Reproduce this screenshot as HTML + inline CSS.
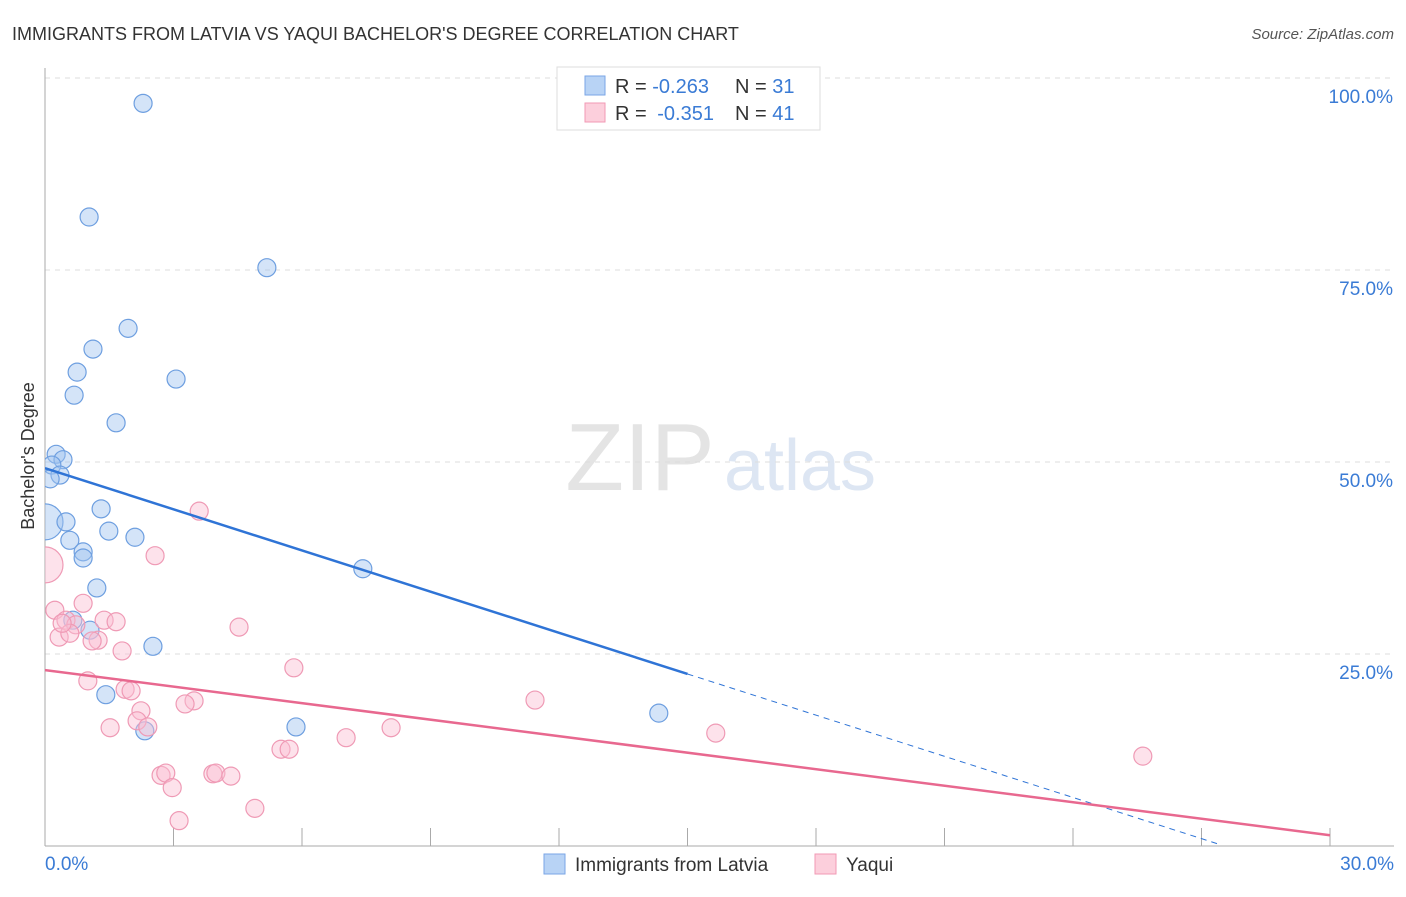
<!DOCTYPE html>
<html><head><meta charset="utf-8"><style>
body{margin:0;background:#fff;font-family:"Liberation Sans",sans-serif;}
svg text{font-family:"Liberation Sans",sans-serif;}
</style></head><body>
<svg id="chart" width="1406" height="892" xmlns="http://www.w3.org/2000/svg">
<defs><clipPath id="plotclip"><rect x="45" y="60" width="1361" height="786"/></clipPath></defs>
<text x="12" y="40" font-size="18" fill="#333">IMMIGRANTS FROM LATVIA VS YAQUI BACHELOR'S DEGREE CORRELATION CHART</text>
<text x="1394" y="39" font-size="15" fill="#555" text-anchor="end" font-style="italic">Source: ZipAtlas.com</text>
<text x="640" y="490" font-size="96" fill="#e4e4e4" font-family="Liberation Serif" text-anchor="middle">ZIP</text>
<text x="800" y="490" font-size="72" fill="#dde6f3" text-anchor="middle">atlas</text>
<g id="grid"></g><g id="axes"></g><g id="marks" clip-path="url(#plotclip)"></g>
<text transform="translate(34,456) rotate(-90)" font-size="18" fill="#333" text-anchor="middle">Bachelor's Degree</text>
<g>
<rect x="557" y="67" width="263" height="63" fill="#fff" stroke="#ddd"/>
<rect x="585" y="76" width="20" height="19" fill="#b8d3f5" stroke="#7aa6e6"/>
<rect x="585" y="103" width="20" height="19" fill="#fccfdc" stroke="#f29ab4"/>
<text x="615" y="93" font-size="20" fill="#333">R = <tspan fill="#3a7bd5">-0.263</tspan><tspan x="735">N = </tspan><tspan fill="#3a7bd5">31</tspan></text>
<text x="615" y="120" font-size="20" fill="#333">R = <tspan fill="#3a7bd5" dx="5">-0.351</tspan><tspan x="735">N = </tspan><tspan fill="#3a7bd5">41</tspan></text>
</g>
<g>
<rect x="544" y="854" width="21" height="20" fill="#b8d3f5" stroke="#7aa6e6"/>
<text x="575" y="871" font-size="19" fill="#333">Immigrants from Latvia</text>
<rect x="815" y="854" width="21" height="20" fill="#fccfdc" stroke="#f29ab4"/>
<text x="846" y="871" font-size="19" fill="#333">Yaqui</text>
</g>
</svg>
<script>
const latviaX=[2.29,1.03,5.18,1.94,1.12,0.75,3.06,0.68,1.66,0.26,0.42,0.16,0.35,0.12,0,0.49,1.31,0.58,1.49,2.10,0.89,0.89,1.21,7.42,0.65,1.05,2.52,1.42,5.86,2.33,14.33];
const latviaY=[96.7,81.9,75.3,67.4,64.7,61.7,60.8,58.7,55.1,51.0,50.3,49.6,48.3,47.8,42.2,42.2,43.9,39.8,41.0,40.2,38.3,37.5,33.6,36.1,29.4,28.1,26.0,19.7,15.5,15.0,17.3];
const yaquiX=[0,0.23,3.6,2.57,0.89,0.49,0.72,1.38,1.66,0.33,0.58,1.24,1.10,4.53,1.80,5.81,1.0,1.87,2.01,3.48,3.27,2.24,11.44,1.52,2.15,2.40,8.08,7.03,5.51,5.70,15.66,25.63,2.71,2.82,3.92,3.99,4.34,2.97,4.90,3.13,0.4];
const yaquiY=[36.6,30.7,43.6,37.8,31.6,29.4,28.8,29.4,29.2,27.2,27.7,26.8,26.7,28.5,25.4,23.2,21.5,20.4,20.2,18.9,18.5,17.6,19.0,15.4,16.3,15.5,15.4,14.1,12.6,12.6,14.7,11.7,9.2,9.5,9.4,9.5,9.1,7.6,4.9,3.3,29.0];
const latviaBig=[14];
const yaquiBig=[0];
const yTicks=[25,50,75,100];
const yTickLabels=["25.0%","50.0%","75.0%","100.0%"];
const xTicks=[0,3,6,9,12,15,18,21,24,27,30];
const latviaTrend=[49.2,22.4,15,27.4];
const yaquiTrend=[22.9,1.4];
const NS="http://www.w3.org/2000/svg";
const X=v=>45+v/30*1285;
const Y=v=>846-v/100*768;
function mk(t,a,p){const e=document.createElementNS(NS,t);for(const k in a)e.setAttribute(k,a[k]);document.getElementById(p).appendChild(e);return e;}
yTicks.forEach((v,i)=>{
 const g=mk('line',{x1:45,x2:1394,y1:Y(v),y2:Y(v),stroke:'#ddd','stroke-dasharray':'5,5'},'grid');
 
 
 const t=mk('text',{x:1393,y:Y(v)+25,'font-size':19,fill:'#3a7bd5','text-anchor':'end'},'axes');
 t.textContent=yTickLabels[i];
 
 
});
const ax=mk('line',{x1:45,x2:45,y1:68,y2:846,stroke:'#aaa'},'axes');


const bx=mk('line',{x1:45,x2:1394,y1:846,y2:846,stroke:'#aaa'},'axes');


xTicks.forEach(v=>{const l=mk('line',{x1:X(v),x2:X(v),y1:828,y2:846,stroke:'#aaa'},'axes');
 
 });
const x0=mk('text',{x:45,y:870,'font-size':19,fill:'#3a7bd5'},'axes');x0.textContent='0.0%';


const x1=mk('text',{x:1394,y:870,'font-size':19,fill:'#3a7bd5','text-anchor':'end'},'axes');x1.textContent='30.0%';


latviaX.forEach((v,i)=>{const c=mk('circle',{cx:X(v),cy:Y(latviaY[i]),r:latviaBig.includes(i)?18:9,fill:'rgba(160,196,240,0.45)',stroke:'#6e9fe0','stroke-width':1.2},'marks');
 
 });
yaquiX.forEach((v,i)=>{const c=mk('circle',{cx:X(v),cy:Y(yaquiY[i]),r:yaquiBig.includes(i)?18:9,fill:'rgba(250,190,210,0.45)',stroke:'#ef9ab5','stroke-width':1.2},'marks');
 
 });
const ly=x=>latviaTrend[0]+(latviaTrend[1]-latviaTrend[0])*x/latviaTrend[2];
const t1=mk('line',{x1:X(0),y1:Y(ly(0)),x2:X(latviaTrend[2]),y2:Y(ly(latviaTrend[2])),stroke:'#2f74d6','stroke-width':2.5},'marks');


const t2=mk('line',{x1:X(latviaTrend[2]),y1:Y(ly(latviaTrend[2])),x2:X(latviaTrend[3]),y2:Y(ly(latviaTrend[3])),stroke:'#2f74d6','stroke-width':1,'stroke-dasharray':'6,5'},'marks');


const t3=mk('line',{x1:X(0),y1:Y(yaquiTrend[0]),x2:X(30),y2:Y(yaquiTrend[1]),stroke:'#e8688f','stroke-width':2.5},'marks');


</script>
</body></html>
